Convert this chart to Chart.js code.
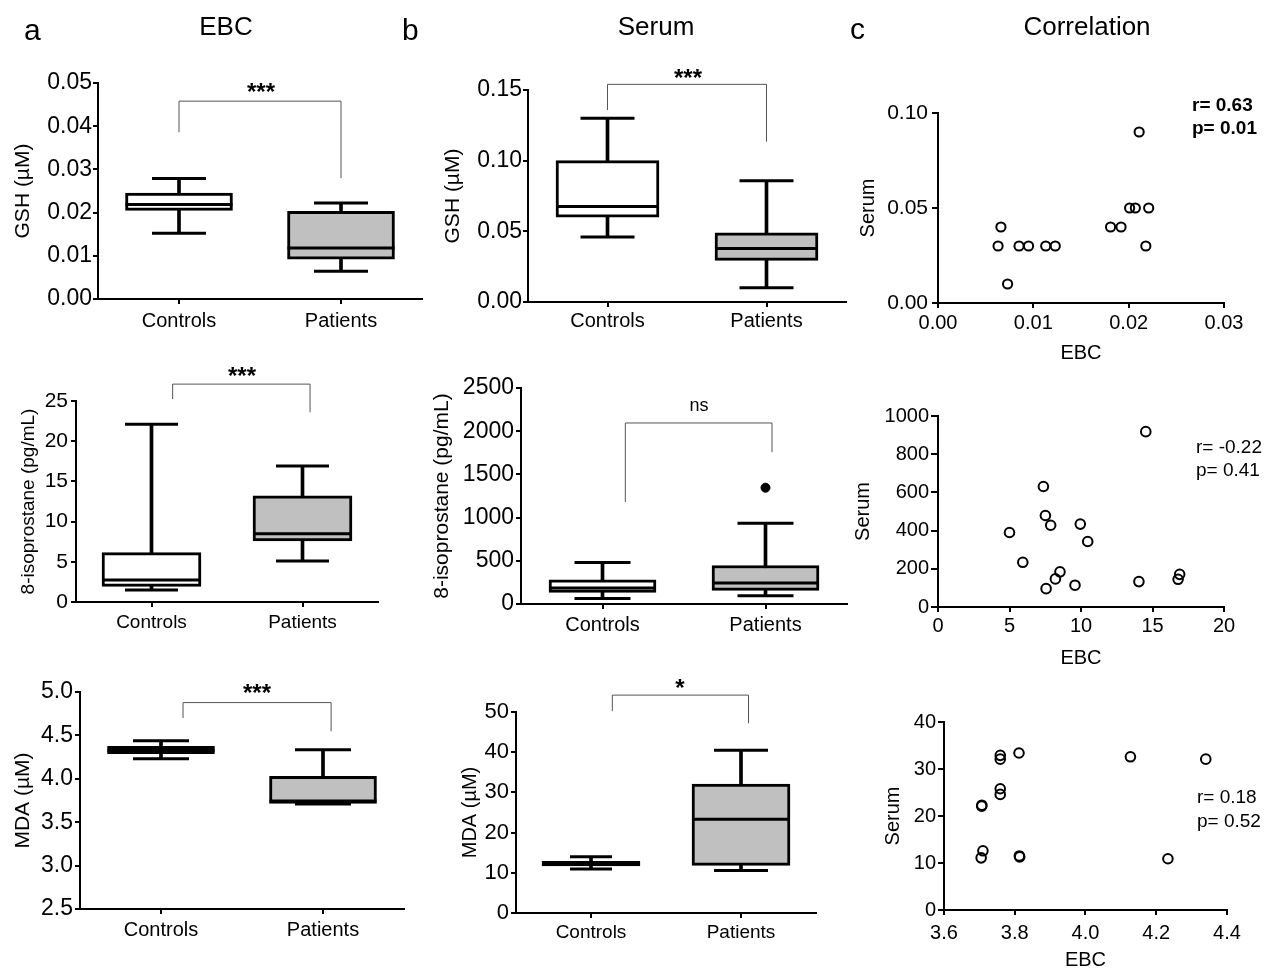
<!DOCTYPE html>
<html>
<head>
<meta charset="utf-8">
<script src="https://cdn.jsdelivr.net/npm/chart.js@4/dist/chart.umd.min.js"></script>
<style>
  html, body { margin: 0; padding: 0; background: #fff; overflow: hidden; }
  body { width: 1274px; height: 971px; position: relative; font-family: 'Liberation Sans', Arial, sans-serif; color: #000; }
  .panel { position: absolute; }
  .txt { position: absolute; line-height: 1; white-space: nowrap; }
</style>
</head>
<body>
<script>
// ---- data ----
const groups = ['Controls', 'Patients'];

// a: EBC GSH (uM)
const gshEbcMin = [0.0152, 0.0064];
const gshEbcQ1 = [0.0205, 0.0092];
const gshEbcMed = [0.0219, 0.0118];
const gshEbcQ3 = [0.0245, 0.0203];
const gshEbcMax = [0.0279, 0.0222];
const gshEbcTicks = ['0.00', '0.01', '0.02', '0.03', '0.04', '0.05'];

// b: serum GSH (uM)
const gshSerMin = [0.046, 0.010];
const gshSerQ1 = [0.060, 0.0295];
const gshSerMed = [0.0676, 0.0378];
const gshSerQ3 = [0.100, 0.0489];
const gshSerMax = [0.130, 0.0858];
const gshSerTicks = ['0.00', '0.05', '0.10', '0.15'];

// a: EBC 8-isoprostane (pg/mL)
const isoEbcMin = [1.5, 5.1];
const isoEbcQ1 = [1.95, 7.6];
const isoEbcMed = [2.75, 8.5];
const isoEbcQ3 = [6.15, 13.2];
const isoEbcMax = [22.1, 16.9];
const isoEbcTicks = ['0', '5', '10', '15', '20', '25'];

// b: serum 8-isoprostane (pg/mL)
const isoSerMin = [65, 96];
const isoSerQ1 = [135, 158];
const isoSerMed = [185, 242];
const isoSerQ3 = [281, 446];
const isoSerMax = [481, 935];
const isoSerOut = [null, 1346];
const isoSerTicks = ['0', '500', '1000', '1500', '2000', '2500'];

// a: EBC MDA (uM)
const mdaEbcMin = [4.232, 3.71];
const mdaEbcQ1 = [4.29, 3.715];
const mdaEbcMed = [4.328, 3.745];
const mdaEbcQ3 = [4.374, 4.028];
const mdaEbcMax = [4.439, 4.336];
const mdaEbcTicks = ['2.5', '3.0', '3.5', '4.0', '4.5', '5.0'];

// b: serum MDA (uM)
const mdaSerMin = [10.95, 10.6];
const mdaSerQ1 = [11.7, 11.86];
const mdaSerMed = [12.19, 23.3];
const mdaSerQ3 = [12.85, 32.1];
const mdaSerMax = [14.0, 40.46];
const mdaSerTicks = ['0', '10', '20', '30', '40', '50'];

// significance brackets: [left x, right x, top, left end, right end]
const gshEbcBracket = [0, 1, 0.0458, 0.0386, 0.0280];
const gshSerBracket = [0, 1, 0.154, 0.1358, 0.1134];
const isoEbcBracket = [0.14, 1.05, 27.1, 25.25, 23.6];
const isoSerBracket = [0.14, 1.04, 2095, 1180, 1757];
const mdaEbcBracket = [0.136, 1.05, 4.878, 4.70, 4.547];
const mdaSerBracket = [0.142, 1.05, 54.2, 50.2, 47.2];

// c: correlation EBC vs serum
const corrGshEbc = [0.0066, 0.0063, 0.0073, 0.0085, 0.0095, 0.0113, 0.0123, 0.0181, 0.0192, 0.0201, 0.0207, 0.0221, 0.0211, 0.0218];
const corrGshSer = [0.04, 0.03, 0.01, 0.03, 0.03, 0.03, 0.03, 0.04, 0.04, 0.05, 0.05, 0.05, 0.09, 0.03];
const corrGshXTicks = ['0.00', '0.01', '0.02', '0.03'];
const corrGshYTicks = ['0.00', '0.05', '0.10'];

const corrIsoEbc = [5.0, 5.93, 7.37, 7.51, 7.88, 7.56, 8.21, 8.53, 9.58, 9.95, 10.47, 14.53, 14.05, 16.9, 16.79];
const corrIsoSer = [390, 234, 631, 479, 428, 96, 147, 184, 114, 434, 343, 918, 133, 171, 145];
const corrIsoXTicks = ['0', '5', '10', '15', '20'];
const corrIsoYTicks = ['0', '200', '400', '600', '800', '1000'];

const corrMdaEbc = [3.7065, 3.707, 3.710, 3.705, 3.759, 3.759, 3.759, 3.759, 3.812, 3.813, 3.814, 4.127, 4.233, 4.340];
const corrMdaSer = [22.1, 22.3, 12.6, 11.1, 32.9, 32.1, 25.8, 24.6, 33.4, 11.5, 11.3, 32.6, 10.9, 32.1];
const corrMdaXTicks = ['3.6', '3.8', '4.0', '4.2', '4.4'];
const corrMdaYTicks = ['0', '10', '20', '30', '40'];

// ---- setup ----
const FONT = "'Liberation Sans', Arial, sans-serif";
Chart.defaults.font.family = FONT;
Chart.defaults.color = '#000';
Chart.defaults.animation = false;
Chart.defaults.events = [];
Chart.defaults.plugins.legend.display = false;
Chart.defaults.plugins.tooltip.enabled = false;

const boxFill = ['#ffffff', '#c0c0c0'];

const bracketPlugin = {
    id: 'bracket',
    afterDraw(chart, args, opts) {
        const b = opts.values;
        if (!b) return;
        const { ctx, scales: { x, y } } = chart;
        const x0 = x.getPixelForValue(b[0]);
        const x1 = x.getPixelForValue(b[1]);
        ctx.save();
        ctx.strokeStyle = '#555';
        ctx.lineWidth = 1;
        ctx.beginPath();
        ctx.moveTo(x0, y.getPixelForValue(b[3]));
        ctx.lineTo(x0, y.getPixelForValue(b[2]));
        ctx.lineTo(x1, y.getPixelForValue(b[2]));
        ctx.lineTo(x1, y.getPixelForValue(b[4]));
        ctx.stroke();
        ctx.restore();
    }
};

function makeCanvas(st, hx) {
    const cl = Math.max(0, st.L - 95);
    const ct = st.T - 50;
    const wrap = document.createElement('div');
    wrap.className = 'panel';
    wrap.style.left = cl + 'px';
    wrap.style.top = ct + 'px';
    const cv = document.createElement('canvas');
    cv.width = st.R - cl + 30;
    cv.height = st.B - ct + hx;
    wrap.appendChild(cv);
    document.body.appendChild(wrap);
    return { cv, cl, ct, wy: st.L - cl };
}

function tickVals(labels) {
    return labels.map(t => ({ value: parseFloat(t) }));
}

function axisCommon(tl) {
    return {
        grid: { display: true, drawOnChartArea: false, drawTicks: true, offset: false, tickLength: tl, lineWidth: 2, color: '#000' },
        border: { display: true, color: '#000', width: 2 }
    };
}

function boxPlot(st, stats, ticks, bracket) {
    const hx = 45;
    const c = makeCanvas(st, hx);
    const datasets = [
        { type: 'bar', data: stats.min.map((v, i) => [v, stats.max[i]]), backgroundColor: '#000', barThickness: 3, grouped: false, order: 4 },
        { type: 'bar', data: stats.q1.map((v, i) => [v, stats.q3[i]]), backgroundColor: boxFill, borderColor: '#000', borderWidth: 3, borderSkipped: false, barThickness: st.boxW, grouped: false, order: 3 },
        { type: 'line', data: stats.max, showLine: false, pointStyle: 'line', pointRadius: st.cap, pointBorderWidth: 3, pointBorderColor: '#000', order: 2 },
        { type: 'line', data: stats.min, showLine: false, pointStyle: 'line', pointRadius: st.cap, pointBorderWidth: 3, pointBorderColor: '#000', order: 2 },
        { type: 'line', data: stats.med, showLine: false, pointStyle: 'line', pointRadius: st.boxW / 2, pointBorderWidth: 3, pointBorderColor: '#000', order: 1 }
    ];
    if (stats.out) {
        datasets.push({ type: 'line', data: stats.out, showLine: false, pointStyle: 'circle', pointRadius: 4.5, pointBackgroundColor: '#000', pointBorderColor: '#000', order: 0 });
    }
    new Chart(c.cv, {
        type: 'bar',
        data: { labels: groups, datasets: datasets },
        options: {
            responsive: false,
            layout: { autoPadding: false, padding: { left: 0, top: 50, right: 30, bottom: 0 } },
            plugins: { bracket: { values: bracket } },
            scales: {
                x: Object.assign(axisCommon(5), {
                    type: 'category', offset: true,
                    ticks: { font: { size: st.xf }, padding: st.xpad, maxRotation: 0, autoSkip: false, color: '#000' },
                    afterFit: s => { s.height = hx; }
                }),
                y: Object.assign(axisCommon(5), {
                    type: 'linear', min: parseFloat(ticks[0]), max: parseFloat(ticks[ticks.length - 1]),
                    ticks: { font: { size: st.yf }, padding: st.ypad, color: '#000', callback: (v, i) => ticks[i] },
                    afterBuildTicks: s => { s.ticks = tickVals(ticks); },
                    title: { display: true, text: st.title, font: { size: st.tf }, color: '#000', padding: { top: st.titleX - c.cl - st.tf * 0.6, bottom: 0 } },
                    afterFit: s => { s.width = c.wy; }
                })
            }
        },
        plugins: [bracketPlugin]
    });
}

function scatterPlot(st, xs, ys, xTicks, yTicks) {
    const hx = 70;
    const c = makeCanvas(st, hx);
    new Chart(c.cv, {
        type: 'scatter',
        data: {
            datasets: [{
                data: xs.map((v, i) => ({ x: v, y: ys[i] })),
                pointStyle: 'circle', pointRadius: st.r, pointBorderWidth: 2,
                pointBorderColor: '#000', pointBackgroundColor: 'rgba(0,0,0,0)', clip: false
            }]
        },
        options: {
            responsive: false,
            layout: { autoPadding: false, padding: { left: 0, top: 50, right: 30, bottom: 0 } },
            scales: {
                x: Object.assign(axisCommon(5), {
                    type: 'linear', min: parseFloat(xTicks[0]), max: parseFloat(xTicks[xTicks.length - 1]),
                    ticks: { font: { size: st.xf }, padding: st.xpad, maxRotation: 0, color: '#000', callback: (v, i) => xTicks[i] },
                    afterBuildTicks: s => { s.ticks = tickVals(xTicks); },
                    title: { display: true, text: 'EBC', font: { size: 20 }, color: '#000', padding: { top: 0, bottom: st.B + hx - st.xTitleY - 12 } },
                    afterFit: s => { s.height = hx; }
                }),
                y: Object.assign(axisCommon(st.ytl), {
                    type: 'linear', min: parseFloat(yTicks[0]), max: parseFloat(yTicks[yTicks.length - 1]),
                    ticks: { font: { size: st.yf }, padding: st.ypad, color: '#000', callback: (v, i) => yTicks[i] },
                    afterBuildTicks: s => { s.ticks = tickVals(yTicks); },
                    title: { display: true, text: 'Serum', font: { size: 20 }, color: '#000', padding: { top: st.titleX - c.cl - 12, bottom: 0 } },
                    afterFit: s => { s.width = c.wy; }
                })
            }
        }
    });
}

function addText(text, x, baseline, size, opts) {
    opts = opts || {};
    const d = document.createElement('div');
    d.className = 'txt';
    d.textContent = text;
    d.style.fontSize = size + 'px';
    d.style.fontWeight = opts.bold ? 'bold' : 'normal';
    d.style.top = (baseline - 0.8465 * size) + 'px';
    d.style.left = x + 'px';
    if (opts.center) d.style.transform = 'translateX(-50%)';
    document.body.appendChild(d);
}

// ---- panels ----
boxPlot({ L: 98, T: 83, R: 422, B: 299, boxW: 107, cap: 27, yf: 23, xf: 20, ypad: 1, xpad: 5, titleX: 23, tf: 21, title: 'GSH (\u00b5M)' },
    { min: gshEbcMin, q1: gshEbcQ1, med: gshEbcMed, q3: gshEbcQ3, max: gshEbcMax }, gshEbcTicks, gshEbcBracket);

boxPlot({ L: 528, T: 90, R: 846, B: 302, boxW: 103, cap: 27, yf: 23, xf: 20, ypad: 1, xpad: 2, titleX: 453, tf: 21, title: 'GSH (\u00b5M)' },
    { min: gshSerMin, q1: gshSerQ1, med: gshSerMed, q3: gshSerQ3, max: gshSerMax }, gshSerTicks, gshSerBracket);

boxPlot({ L: 76, T: 401, R: 378, B: 602, boxW: 99, cap: 26.5, yf: 21, xf: 19, ypad: 3, xpad: 4, titleX: 29, tf: 19, title: '8-isoprostane (pg/mL)' },
    { min: isoEbcMin, q1: isoEbcQ1, med: isoEbcMed, q3: isoEbcQ3, max: isoEbcMax }, isoEbcTicks, isoEbcBracket);

boxPlot({ L: 521, T: 388, R: 847, B: 604, boxW: 107, cap: 28, yf: 23, xf: 20, ypad: 2, xpad: 4, titleX: 442, tf: 21, title: '8-isoprostane (pg/mL)' },
    { min: isoSerMin, q1: isoSerQ1, med: isoSerMed, q3: isoSerQ3, max: isoSerMax, out: isoSerOut }, isoSerTicks, isoSerBracket);

boxPlot({ L: 80, T: 692, R: 404, B: 909, boxW: 107, cap: 28, yf: 23, xf: 20, ypad: 2, xpad: 4, titleX: 23, tf: 21, title: 'MDA (\u00b5M)' },
    { min: mdaEbcMin, q1: mdaEbcQ1, med: mdaEbcMed, q3: mdaEbcQ3, max: mdaEbcMax }, mdaEbcTicks, mdaEbcBracket);

boxPlot({ L: 516, T: 712, R: 816, B: 913, boxW: 98, cap: [21, 27], yf: 22, xf: 19, ypad: 2, xpad: 3, titleX: 470, tf: 20, title: 'MDA (\u00b5M)' },
    { min: mdaSerMin, q1: mdaSerQ1, med: mdaSerMed, q3: mdaSerQ3, max: mdaSerMax }, mdaSerTicks, mdaSerBracket);

scatterPlot({ L: 938, T: 113, R: 1224, B: 303, r: 4.6, yf: 21, xf: 20, ytl: 6, ypad: 4, xpad: 3, titleX: 868, xTitleY: 353 },
    corrGshEbc, corrGshSer, corrGshXTicks, corrGshYTicks);

scatterPlot({ L: 938, T: 416, R: 1224, B: 607, r: 4.8, yf: 20, xf: 20, ytl: 7, ypad: 2, xpad: 2, titleX: 863, xTitleY: 658 },
    corrIsoEbc, corrIsoSer, corrIsoXTicks, corrIsoYTicks);

scatterPlot({ L: 944, T: 722, R: 1227, B: 910, r: 4.8, yf: 20, xf: 20, ytl: 6, ypad: 2, xpad: 6, titleX: 893, xTitleY: 960 },
    corrMdaEbc, corrMdaSer, corrMdaXTicks, corrMdaYTicks);

// ---- headers and annotations ----
addText('a', 24, 40, 30);
addText('EBC', 226, 35, 26, { center: true });
addText('b', 402, 40, 30);
addText('Serum', 656, 35, 26, { center: true });
addText('c', 850, 39, 30);
addText('Correlation', 1087, 35, 26, { center: true });

addText('***', 261, 87 + 0.57 * 24, 24, { bold: true, center: true });
addText('***', 688, 72.5 + 0.57 * 24, 24, { bold: true, center: true });
addText('***', 242, 371 + 0.57 * 24, 24, { bold: true, center: true });
addText('ns', 699, 407 + 0.26 * 18, 18, { center: true });
addText('***', 257, 688 + 0.57 * 24, 24, { bold: true, center: true });
addText('*', 680, 683 + 0.57 * 24, 24, { bold: true, center: true });

addText('r= 0.63', 1192, 111, 19, { bold: true });
addText('p= 0.01', 1192, 134, 19, { bold: true });
addText('r= -0.22', 1196, 453, 19);
addText('p= 0.41', 1196, 476, 19);
addText('r= 0.18', 1197, 803, 19);
addText('p= 0.52', 1197, 827, 19);
</script>
</body>
</html>
